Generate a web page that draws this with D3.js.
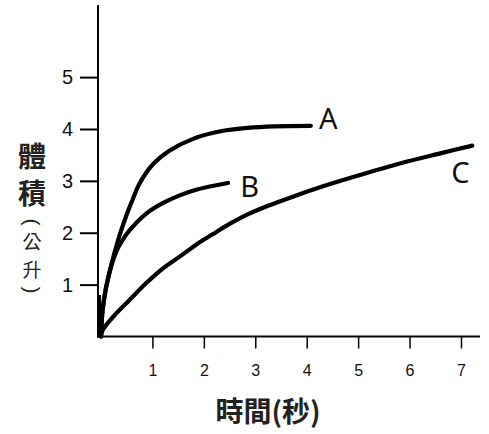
<!DOCTYPE html>
<html>
<head>
<meta charset="utf-8">
<script src="https://cdn.jsdelivr.net/npm/d3@7"></script>
<style>
  html, body { margin: 0; padding: 0; background: #fff; }
  svg { display: block; }
</style>
</head>
<body>
<svg id="chart" width="489" height="434"></svg>
<script>
// ---- data ----
const tA = [0, 0.03, 0.1, 0.2, 0.33, 0.46, 0.55, 0.62, 0.75, 1.01, 1.33, 1.79, 2.35, 2.85, 3.36, 4.08];
const vA = [0, 0.5, 0.95, 1.38, 1.85, 2.24, 2.48, 2.65, 2.95, 3.32, 3.58, 3.81, 3.96, 4.02, 4.05, 4.06];
const tB = [0, 0.03, 0.1, 0.2, 0.3, 0.42, 0.55, 0.88, 1.2, 1.53, 1.85, 2.47];
const vB = [0, 0.5, 0.95, 1.36, 1.64, 1.86, 2.04, 2.37, 2.57, 2.72, 2.83, 2.96];
const tC = [0, 0.03, 0.3, 0.55, 0.88, 1.2, 1.53, 1.85, 2.17, 2.5, 2.82, 3.25, 3.69, 4.3, 4.99, 5.83, 6.6, 7.22];
const vC = [0, 0.12, 0.45, 0.7, 1.03, 1.31, 1.54, 1.77, 1.97, 2.17, 2.34, 2.52, 2.68, 2.89, 3.1, 3.34, 3.53, 3.68];
const seriesNames = ["A", "B", "C"];
const xTicks = [1, 2, 3, 4, 5, 6, 7];
const yTicks = [1, 2, 3, 4, 5];
const xTitle = "時間(秒)";
const yTitleMain = ["體", "積"];
const yTitleUnit = ["公", "升"];

// ---- scales ----
const svg = d3.select("#chart");
const x = d3.scaleLinear().domain([0, 7.37]).range([101, 480]);
const y = d3.scaleLinear().domain([0, 6.39]).range([336.5, 5]);

// axes
const yAxis = d3.axisLeft(y).tickValues(yTicks).tickFormat(d3.format("d"))
  .tickSize(18).tickPadding(7).tickSizeOuter(0);
const gy = svg.append("g").attr("transform", `translate(98,0)`).call(yAxis);
gy.select(".domain").remove();
gy.selectAll(".tick line").attr("stroke", "#000").attr("stroke-width", 2);
gy.selectAll(".tick text").attr("font-family", "Liberation Sans, Arial, sans-serif")
  .attr("font-size", 20).attr("fill", "#111");

const xAxis = d3.axisBottom(x).tickValues(xTicks).tickFormat(d3.format("d"))
  .tickSize(12).tickPadding(16).tickSizeOuter(0);
const gx = svg.append("g").attr("transform", `translate(0,${y(0)})`).call(xAxis);
gx.select(".domain").remove();
gx.selectAll(".tick line").attr("stroke", "#000").attr("stroke-width", 1.5);
gx.selectAll(".tick text").attr("font-family", "Liberation Sans, Arial, sans-serif")
  .attr("font-size", 16).attr("fill", "#111");

// axis lines
svg.append("line").attr("x1", 98).attr("x2", 98).attr("y1", y.range()[1]).attr("y2", y(0) + 1)
  .attr("stroke", "#000").attr("stroke-width", 2);
svg.append("line").attr("x1", 97).attr("x2", x.range()[1]).attr("y1", y(0)).attr("y2", y(0))
  .attr("stroke", "#000").attr("stroke-width", 2.2);

// curves
const line = d3.line().x(d => x(d[0])).y(d => y(d[1])).curve(d3.curveCatmullRom.alpha(0.5));
const series = [d3.zip(tA, vA), d3.zip(tB, vB), d3.zip(tC, vC)];
series.forEach(s => {
  svg.append("path").attr("d", line(s)).attr("fill", "none")
    .attr("stroke", "#000").attr("stroke-width", 4.2).attr("stroke-linecap", "round")
    .attr("stroke-linejoin", "round");
});
// steep start near origin
svg.append("line").attr("x1", 99.5).attr("x2", 99.5).attr("y1", y(0)).attr("y2", y(0.8))
  .attr("stroke", "#000").attr("stroke-width", 3);

// series labels
const labelPos = [[4.42, 4.0], [2.89, 2.69], [6.99, 2.95]];
seriesNames.forEach((n, i) => {
  svg.append("text").attr("x", x(labelPos[i][0])).attr("y", y(labelPos[i][1]))
    .attr("font-family", "Noto Sans, Open Sans, sans-serif").attr("font-size", 29)
    .attr("text-anchor", "middle").attr("fill", "#111").text(n);
});

// titles
svg.append("text").attr("x", 268).attr("y", 422).attr("text-anchor", "middle")
  .attr("font-family", "Noto Sans CJK TC, sans-serif").attr("font-weight", "bold")
  .attr("font-size", 28).attr("fill", "#222").text(xTitle);

yTitleMain.forEach((c, i) => {
  svg.append("text").attr("x", 32).attr("y", 157 + i * 37).attr("dy", "0.36em")
    .attr("text-anchor", "middle").attr("font-family", "Noto Sans CJK TC, sans-serif")
    .attr("font-weight", "bold").attr("font-size", 28).attr("fill", "#222").text(c);
});
const unitY = [242, 270];
yTitleUnit.forEach((c, i) => {
  svg.append("text").attr("x", 32).attr("y", unitY[i]).attr("dy", "0.36em")
    .attr("text-anchor", "middle").attr("font-family", "Noto Sans CJK TC, sans-serif")
    .attr("font-size", 19).attr("fill", "#222").text(c);
});
// vertical brackets (rotated parentheses)
[["(", 222], [")", 290]].forEach(([c, yy]) => {
  svg.append("text").attr("transform", `translate(32,${yy}) rotate(90)`)
    .attr("text-anchor", "middle").attr("dy", "0.33em")
    .attr("font-family", "Liberation Sans, Arial, sans-serif").attr("font-size", 21)
    .attr("fill", "#222").text(c);
});
</script>
</body>
</html>
